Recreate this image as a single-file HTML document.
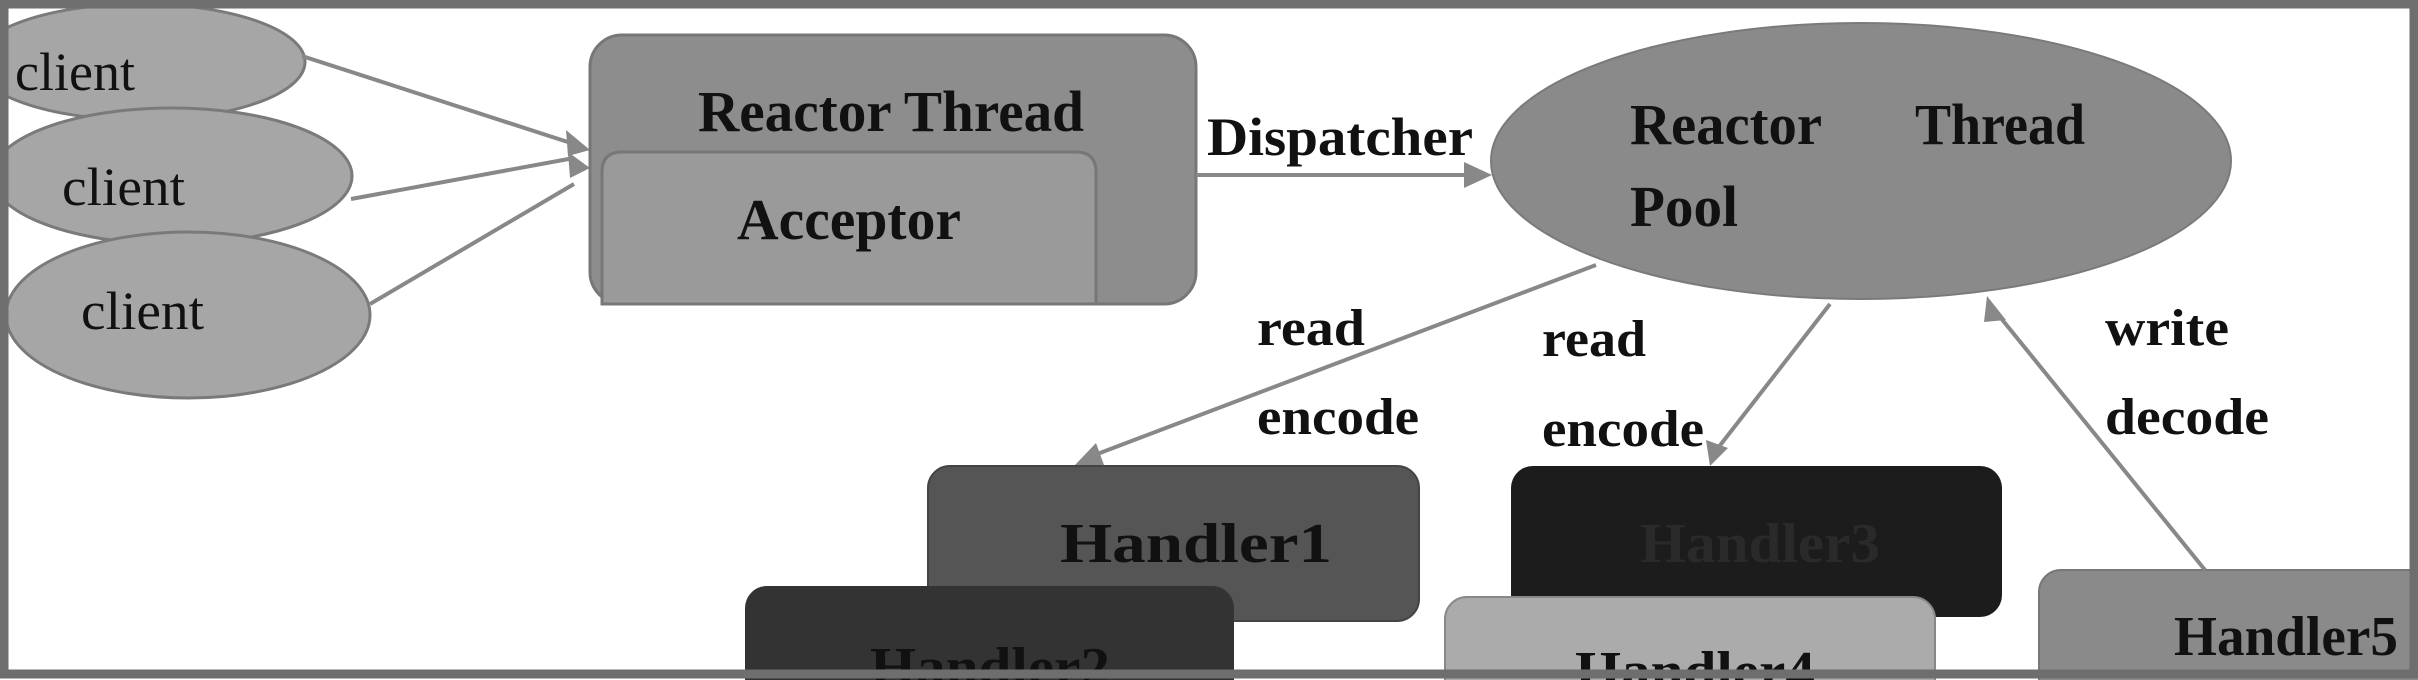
<!DOCTYPE html>
<html><head><meta charset="utf-8"><style>
html,body{margin:0;padding:0;background:#fff;}
svg{display:block;}
text{font-family:"Liberation Serif",serif;font-weight:bold;fill:#111;}
</style></head><body>
<svg width="2418" height="680" viewBox="0 0 2418 680" xmlns="http://www.w3.org/2000/svg">
<rect x="0" y="0" width="2418" height="680" fill="#fff"/>
<!-- clients -->
<ellipse cx="140" cy="62" rx="165" ry="58" fill="#a6a6a6" stroke="#7a7a7a" stroke-width="3"/>
<ellipse cx="172" cy="176" rx="180" ry="68" fill="#a6a6a6" stroke="#7a7a7a" stroke-width="3"/>
<ellipse cx="188" cy="315" rx="182" ry="83" fill="#a6a6a6" stroke="#7a7a7a" stroke-width="3"/>
<text x="15" y="90" font-size="54" textLength="120" lengthAdjust="spacingAndGlyphs" style="font-weight:normal">client</text>
<text x="62" y="205" font-size="54" textLength="123" lengthAdjust="spacingAndGlyphs" style="font-weight:normal">client</text>
<text x="81" y="329" font-size="54" textLength="123" lengthAdjust="spacingAndGlyphs" style="font-weight:normal">client</text>
<!-- client arrows -->
<g stroke="#888" stroke-width="4" fill="none">
<line x1="302" y1="56" x2="574" y2="144"/>
<line x1="351" y1="199" x2="574" y2="158"/>
<line x1="370" y1="304" x2="574" y2="184"/>
</g>
<polygon points="590,150 566,130 568,156" fill="#888"/>
<polygon points="590,168 568,152 570,178" fill="#888"/>
<!-- Reactor Thread box -->
<rect x="590" y="35" width="606" height="269" rx="32" fill="#8d8d8d" stroke="#777" stroke-width="3"/>
<path d="M602,304 L602,172 Q602,152 622,152 L1076,152 Q1096,152 1096,172 L1096,304 Z" fill="#9a9a9a" stroke="#777" stroke-width="3"/>
<text x="698" y="131" font-size="58" textLength="386" lengthAdjust="spacingAndGlyphs">Reactor Thread</text>
<text x="737" y="239" font-size="58" textLength="224" lengthAdjust="spacingAndGlyphs">Acceptor</text>
<!-- Dispatcher -->
<line x1="1196" y1="175" x2="1468" y2="175" stroke="#888" stroke-width="4"/>
<polygon points="1492,175 1464,162 1464,188" fill="#888"/>
<text x="1207" y="155" font-size="54" textLength="266" lengthAdjust="spacingAndGlyphs">Dispatcher</text>
<!-- Pool ellipse -->
<ellipse cx="1861" cy="161" rx="370" ry="138" fill="#8a8a8a" stroke="#7a7a7a" stroke-width="2"/>
<text x="1630" y="144" font-size="58" textLength="192" lengthAdjust="spacingAndGlyphs">Reactor</text>
<text x="1915" y="144" font-size="58" textLength="170" lengthAdjust="spacingAndGlyphs">Thread</text>
<text x="1630" y="226" font-size="58" textLength="108" lengthAdjust="spacingAndGlyphs">Pool</text>
<!-- Handlers -->
<rect x="928" y="466" width="491" height="155" rx="22" fill="#555" stroke="#444" stroke-width="2"/>
<text x="1060" y="562" font-size="56" textLength="272" lengthAdjust="spacingAndGlyphs">Handler1</text>
<rect x="1511" y="466" width="491" height="151" rx="22" fill="#1c1c1c"/>
<text x="1640" y="562" font-size="56" textLength="240" lengthAdjust="spacingAndGlyphs" style="fill:#2a2a2a">Handler3</text>
<rect x="745" y="586" width="489" height="120" rx="22" fill="#333"/>
<text x="870" y="686" font-size="56" textLength="240" lengthAdjust="spacingAndGlyphs">Handler2</text>
<rect x="1445" y="597" width="490" height="110" rx="22" fill="#ababab" stroke="#888" stroke-width="2"/>
<text x="1575" y="690" font-size="56" textLength="240" lengthAdjust="spacingAndGlyphs">Handler4</text>
<rect x="2039" y="570" width="400" height="130" rx="22" fill="#8a8a8a" stroke="#777" stroke-width="2"/>
<text x="2174" y="655" font-size="56" textLength="224" lengthAdjust="spacingAndGlyphs">Handler5</text>
<!-- arrows to handlers -->
<g stroke="#888" stroke-width="4" fill="none">
<line x1="1596" y1="265" x2="1092" y2="456"/>
<line x1="1830" y1="304" x2="1718" y2="448"/>
<line x1="2205" y1="570" x2="1996" y2="312"/>
</g>
<polygon points="1075,465 1096,443 1104,465" fill="#888"/>
<polygon points="1710,466 1706,440 1728,448" fill="#888"/>
<polygon points="1987,296 2006,320 1984,322" fill="#888"/>
<!-- labels -->
<text x="1257" y="345" font-size="52" textLength="108" lengthAdjust="spacingAndGlyphs">read</text>
<text x="1257" y="434" font-size="52" textLength="162" lengthAdjust="spacingAndGlyphs">encode</text>
<text x="1542" y="356" font-size="52" textLength="104" lengthAdjust="spacingAndGlyphs">read</text>
<text x="1542" y="446" font-size="52" textLength="162" lengthAdjust="spacingAndGlyphs">encode</text>
<text x="2105" y="345" font-size="52" textLength="124" lengthAdjust="spacingAndGlyphs">write</text>
<text x="2105" y="434" font-size="52" textLength="164" lengthAdjust="spacingAndGlyphs">decode</text>
<!-- frame -->
<rect x="4" y="4" width="2410" height="670" fill="none" stroke="#6e6e6e" stroke-width="9"/>
</svg>
</body></html>
